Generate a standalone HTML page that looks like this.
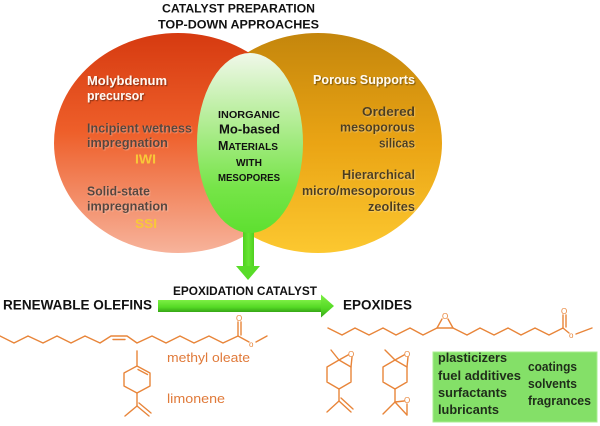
<!DOCTYPE html>
<html>
<head>
<meta charset="utf-8">
<style>
  html, body { margin: 0; padding: 0; background: #ffffff; }
  body { width: 600px; height: 426px; overflow: hidden; }
  svg { display: block; }
  .b { font-family: "Liberation Sans", "DejaVu Sans", sans-serif; font-weight: bold; }
  .r { font-family: "Liberation Sans", "DejaVu Sans", sans-serif; font-weight: normal; }
</style>
</head>
<body>
<svg width="600" height="426" viewBox="0 0 600 426" xmlns="http://www.w3.org/2000/svg">
  <defs>
    <linearGradient id="gL" x1="0" y1="0" x2="0" y2="1">
      <stop offset="0" stop-color="#d63a10"/>
      <stop offset="0.45" stop-color="#ee5f2a"/>
      <stop offset="1" stop-color="#f7b39b"/>
    </linearGradient>
    <linearGradient id="gR" x1="0" y1="0" x2="0" y2="1">
      <stop offset="0" stop-color="#c4860c"/>
      <stop offset="0.5" stop-color="#eaa414"/>
      <stop offset="1" stop-color="#fcc830"/>
    </linearGradient>
    <linearGradient id="gG" x1="0" y1="0" x2="0" y2="1">
      <stop offset="0" stop-color="#f0f8ea"/>
      <stop offset="0.35" stop-color="#b8ee9c"/>
      <stop offset="0.75" stop-color="#76e448"/>
      <stop offset="1" stop-color="#5ee030"/>
    </linearGradient>
    <linearGradient id="gA" x1="0" y1="0" x2="0" y2="1">
      <stop offset="0" stop-color="#7def45"/>
      <stop offset="0.6" stop-color="#55da25"/>
      <stop offset="1" stop-color="#36a616"/>
    </linearGradient>
    <linearGradient id="gS" x1="0" y1="0" x2="1" y2="0">
      <stop offset="0" stop-color="#4fd020"/>
      <stop offset="0.5" stop-color="#66e533"/>
      <stop offset="1" stop-color="#4fd020"/>
    </linearGradient>
    <filter id="sh" x="-10%" y="-30%" width="120%" height="160%">
      <feDropShadow dx="1" dy="1" stdDeviation="0.6" flood-color="#000" flood-opacity="0.45"/>
    </filter>
    <filter id="shl" x="-10%" y="-30%" width="120%" height="160%">
      <feDropShadow dx="0.8" dy="0.8" stdDeviation="0.5" flood-color="#fff" flood-opacity="0.35"/>
    </filter>
  </defs>

  <!-- Title -->
  <text class="b" x="162" y="12.7" font-size="12" textLength="153" lengthAdjust="spacingAndGlyphs" fill="#111">CATALYST PREPARATION</text>
  <text class="b" x="158" y="28.3" font-size="12" textLength="161" lengthAdjust="spacingAndGlyphs" fill="#111">TOP-DOWN APPROACHES</text>

  <!-- Venn -->
  <ellipse cx="318" cy="143" rx="124" ry="110" fill="url(#gR)"/>
  <ellipse cx="178" cy="143" rx="124" ry="110" fill="url(#gL)"/>
  <!-- stem + arrowhead -->
  <rect x="243" y="222" width="11" height="46" fill="url(#gS)"/>
  <polygon points="236,266 260,266 248,280" fill="#58dc28"/>
  <ellipse cx="250" cy="143" rx="53" ry="90" fill="url(#gG)"/>

  <!-- Left texts -->
  <g class="b" font-size="12.5">
    <text x="87" y="85" textLength="80" lengthAdjust="spacingAndGlyphs" fill="#fff8f2" filter="url(#sh)">Molybdenum</text>
    <text x="87" y="100" textLength="57" lengthAdjust="spacingAndGlyphs" fill="#fff8f2" filter="url(#sh)">precursor</text>
    <text x="87" y="132.5" textLength="105" lengthAdjust="spacingAndGlyphs" fill="#56443c" filter="url(#shl)">Incipient wetness</text>
    <text x="87" y="147" textLength="81" lengthAdjust="spacingAndGlyphs" fill="#56443c" filter="url(#shl)">impregnation</text>
    <text x="135" y="163.5" textLength="21" lengthAdjust="spacingAndGlyphs" fill="#f8c838">IWI</text>
    <text x="87" y="195.7" textLength="63" lengthAdjust="spacingAndGlyphs" fill="#56443c" filter="url(#shl)">Solid-state</text>
    <text x="87" y="210.7" textLength="81" lengthAdjust="spacingAndGlyphs" fill="#56443c" filter="url(#shl)">impregnation</text>
    <text x="135" y="228" textLength="22" lengthAdjust="spacingAndGlyphs" fill="#f8c838">SSI</text>
  </g>

  <!-- Center texts -->
  <g class="b" fill="#111">
    <text x="218" y="118" font-size="10.5" textLength="62" lengthAdjust="spacingAndGlyphs">INORGANIC</text>
    <text x="219" y="133.5" font-size="13" textLength="61" lengthAdjust="spacingAndGlyphs">Mo-based</text>
    <text x="218" y="150" font-size="10.5" textLength="60" lengthAdjust="spacingAndGlyphs"><tspan font-size="13">M</tspan>ATERIALS</text>
    <text x="236" y="166" font-size="10.5" textLength="26" lengthAdjust="spacingAndGlyphs">WITH</text>
    <text x="218" y="181" font-size="10.5" textLength="62" lengthAdjust="spacingAndGlyphs">MESOPORES</text>
  </g>

  <!-- Right texts -->
  <g class="b" font-size="12.5">
    <text x="313" y="84" textLength="102" lengthAdjust="spacingAndGlyphs" fill="#fffaf0" filter="url(#sh)">Porous Supports</text>
    <text x="362" y="116" textLength="53" lengthAdjust="spacingAndGlyphs" fill="#4d3c1e" filter="url(#shl)">Ordered</text>
    <text x="340" y="131.7" textLength="75" lengthAdjust="spacingAndGlyphs" fill="#4d3c1e" filter="url(#shl)">mesoporous</text>
    <text x="379" y="147.7" textLength="36" lengthAdjust="spacingAndGlyphs" fill="#4d3c1e" filter="url(#shl)">silicas</text>
    <text x="342" y="179" textLength="73" lengthAdjust="spacingAndGlyphs" fill="#4d3c1e" filter="url(#shl)">Hierarchical</text>
    <text x="302" y="195" textLength="113" lengthAdjust="spacingAndGlyphs" fill="#4d3c1e" filter="url(#shl)">micro/mesoporous</text>
    <text x="368" y="211" textLength="47" lengthAdjust="spacingAndGlyphs" fill="#4d3c1e" filter="url(#shl)">zeolites</text>
  </g>

  <!-- Horizontal arrow -->
  <rect x="158" y="300" width="164" height="12" fill="url(#gA)"/>
  <polygon points="321,294.5 321,317.5 334,306" fill="url(#gA)"/>

  <text class="b" x="173" y="295" font-size="11.5" textLength="144" lengthAdjust="spacingAndGlyphs" fill="#111">EPOXIDATION CATALYST</text>
  <text class="b" x="3" y="309.3" font-size="13.5" textLength="149" lengthAdjust="spacingAndGlyphs" fill="#111">RENEWABLE OLEFINS</text>
  <text class="b" x="343" y="309.3" font-size="13.5" textLength="69" lengthAdjust="spacingAndGlyphs" fill="#111">EPOXIDES</text>

  <!-- Chemical structures -->
  <g stroke="#e8853a" stroke-width="1.4" fill="none" stroke-linejoin="round" stroke-linecap="round">
    <!-- methyl oleate -->
    <polyline points="0,336 14,343 28,336 43,343 57,336 71,343 85,336 100,343 111,336 127,336 137,343 152,336 166,343 180,336 194,343 209,336 223,343 238,336 249,342"/>
    <line x1="113" y1="339.5" x2="125" y2="339.5"/>
    <line x1="238" y1="336" x2="238" y2="322"/>
    <line x1="241" y1="335" x2="241" y2="322"/>
    <line x1="256" y1="342" x2="267" y2="336"/>
    <!-- limonene -->
    <line x1="137" y1="351" x2="137" y2="366"/>
    <polygon points="137,366 150,373 150,386 137,393 124,386 124,373"/>
    <line x1="138" y1="369.5" x2="147.5" y2="374.5"/>
    <line x1="137" y1="393" x2="137" y2="406"/>
    <line x1="137" y1="406" x2="125" y2="416"/>
    <line x1="137" y1="406" x2="149" y2="416"/>
    <line x1="139" y1="403" x2="151" y2="413"/>

    <!-- epoxidized methyl oleate -->
    <polyline points="328,328 342,335 355,328 369,335 383,328 396,335 410,328 423,335 437,328 453,328 467,335 480,328 494,335 508,328 521,335 535,328 549,335 563,328 569,333"/>
    <line x1="437" y1="328" x2="442" y2="319"/>
    <line x1="453" y1="328" x2="448" y2="319"/>
    <line x1="563" y1="328" x2="563" y2="315"/>
    <line x1="566" y1="327" x2="566" y2="315"/>
    <line x1="576" y1="334" x2="592" y2="328"/>

    <!-- epoxy limonene 1 -->
    <line x1="331" y1="350" x2="339" y2="360"/>
    <polygon points="339,360 351,367 351,382 339,389 327,382 327,367"/>
    <line x1="339" y1="360" x2="348" y2="355"/>
    <line x1="351" y1="367" x2="352" y2="357"/>
    <line x1="339" y1="389" x2="339" y2="401"/>
    <line x1="339" y1="401" x2="327" y2="412"/>
    <line x1="339" y1="401" x2="351" y2="412"/>
    <line x1="341" y1="398" x2="353" y2="409"/>

    <!-- epoxy limonene 2 -->
    <line x1="385" y1="350" x2="395" y2="360"/>
    <polygon points="395,360 407,367 407,382 395,389 383,382 383,367"/>
    <line x1="395" y1="360" x2="404" y2="355"/>
    <line x1="407" y1="367" x2="408" y2="357"/>
    <line x1="395" y1="389" x2="395" y2="402"/>
    <line x1="395" y1="402" x2="383" y2="414"/>
    <line x1="395" y1="402" x2="407" y2="415"/>
    <line x1="395" y1="402" x2="404" y2="401"/>
    <line x1="407" y1="415" x2="407" y2="404"/>
  </g>

  <!-- O labels -->
  <g class="r" font-size="8" fill="#e8853a">
    <text x="236" y="321">O</text>
    <text x="249" y="347">o</text>
    <text x="442" y="319">O</text>
    <text x="561" y="314">O</text>
    <text x="569" y="338">o</text>
    <text x="348" y="357">O</text>
    <text x="404" y="357">O</text>
    <text x="404" y="403">O</text>
  </g>

  <text class="r" x="167" y="362" font-size="13" textLength="83" lengthAdjust="spacingAndGlyphs" fill="#e07a3a">methyl oleate</text>
  <text class="r" x="167" y="403" font-size="13" textLength="58" lengthAdjust="spacingAndGlyphs" fill="#e07a3a">limonene</text>

  <!-- Applications box -->
  <rect x="433" y="352" width="164" height="70" fill="#84e068" stroke="#a8ee90" stroke-width="1"/>
  <g class="b" font-size="13" fill="#1f2d1a">
    <text x="438" y="362" textLength="69" lengthAdjust="spacingAndGlyphs">plasticizers</text>
    <text x="438" y="380" textLength="83" lengthAdjust="spacingAndGlyphs">fuel additives</text>
    <text x="438" y="397" textLength="69" lengthAdjust="spacingAndGlyphs">surfactants</text>
    <text x="438" y="414" textLength="61" lengthAdjust="spacingAndGlyphs">lubricants</text>
    <text x="528" y="371" textLength="49" lengthAdjust="spacingAndGlyphs">coatings</text>
    <text x="528" y="388" textLength="49" lengthAdjust="spacingAndGlyphs">solvents</text>
    <text x="528" y="405" textLength="63" lengthAdjust="spacingAndGlyphs">fragrances</text>
  </g>
</svg>
</body>
</html>
